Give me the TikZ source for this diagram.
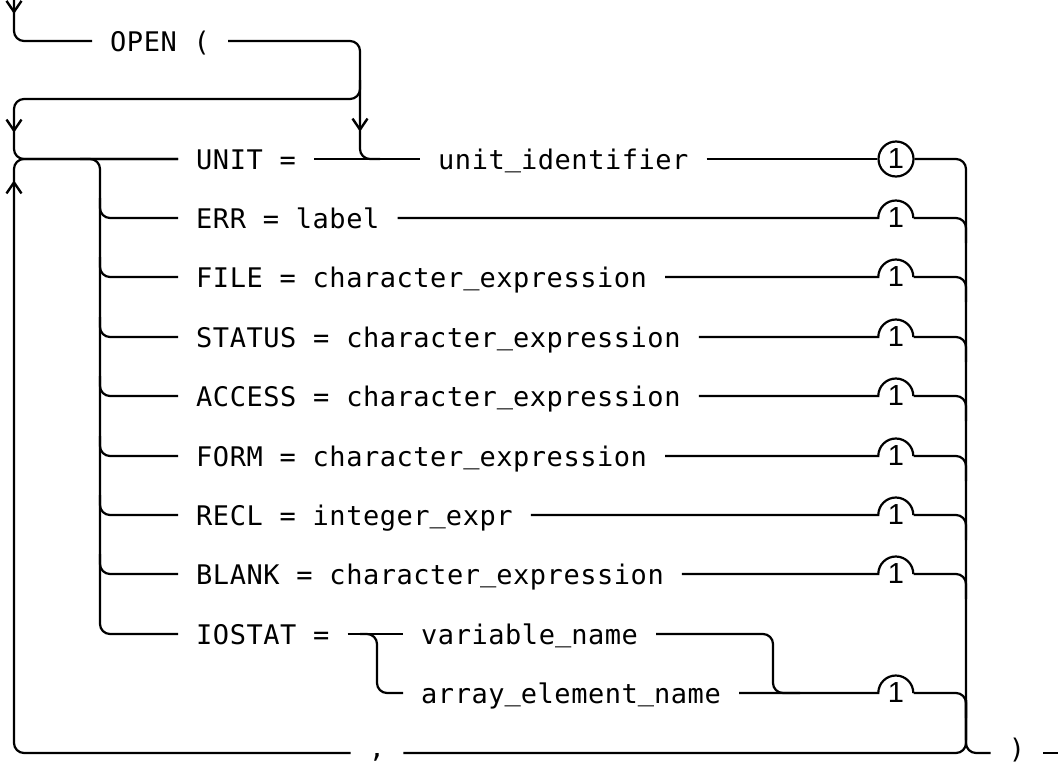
\documentclass[tikz,border=0pt]{standalone}
\usepackage{fontspec}
\newfontfamily\dmono[LetterSpace=2]{DejaVu Sans Mono}
\newfontfamily\dnum{Liberation Sans}
\newcommand\us{\raisebox{0.1em}{\_}}
\usetikzlibrary{arrows.meta,decorations.markings}
\tikzset{
  barb/.tip={Straight Barb[length=11pt,width=15pt]},
  rail/.style={line width=2.2pt, rounded corners=10pt},
  plain/.style={line width=2.2pt},
  lbl/.style={font=\dmono\fontsize{27pt}{27pt}\selectfont, inner xsep=18pt, inner ysep=0pt,
              text height=20pt, text depth=0pt, anchor=west},
  num/.style={circle, minimum size=35pt, inner sep=0pt, font=\dnum\fontsize{29pt}{29pt}\selectfont},
  numc/.style={num, draw, line width=2.2pt},
  amark/.style={postaction={decorate}, decoration={markings, mark=at position #1 with
     {\draw[line width=2.4pt, -{barb}] (-12pt,0pt) -- (0pt,0pt);}}}
}
\begin{document}
\begin{tikzpicture}[x=1pt,y=-1pt]
\useasboundingbox (0,0) rectangle (1058,764);
% texts
\node[lbl] (t0) at (92,41) {OPEN (};
\node[lbl] (t1) at (178,159) {UNIT =};
\node[lbl] (t1b) at (420,159) {unit\us identifier};
\node[lbl] (t2) at (178,218) {ERR = label};
\node[lbl] (t3) at (178,277) {FILE = character\us expression};
\node[lbl] (t4) at (178,337) {STATUS = character\us expression};
\node[lbl] (t5) at (178,396) {ACCESS = character\us expression};
\node[lbl] (t6) at (178,456) {FORM = character\us expression};
\node[lbl] (t7) at (178,515) {RECL = integer\us expr};
\node[lbl] (t8) at (178,574) {BLANK = character\us expression};
\node[lbl] (t9) at (178,634) {IOSTAT =};
\node[lbl] (t9b) at (403,634) {variable\us name};
\node[lbl] (t10) at (403,693) {array\us element\us name};
\node[lbl, anchor=center] (comma) at (377,747) {,};
\node[lbl, anchor=center] (rp) at (1017,748) {)};
\coordinate (start) at (14,0);
\coordinate (stop) at (1058,753);
% circled / arched numbers
\node[numc] (c1) at (896,159) {1};
\foreach \n/\y in {2/218,3/277,4/337,5/396,6/456,7/515,8/574,10/693}{
  \node[num] (c\n) at (896,\y) {1};
}
% entry
\draw[rail, amark=14pt] (start) |- (t0.west);
\draw[rail, amark=-43pt] (t0.east) -- (360,41) -- (360,159) -- (380,159);
\draw[rail, amark=-186pt] (360,80) -- (360,99) -- (14,99) -- (14,159) -- (t1.west);
\draw[rail, amark=-181pt] (comma.west |- stop) -- (14,753) -- (14,159) -- (t1.west);
% main row
\draw[rail] (t1.east) -- (t1b.west);
\draw[rail] (t1b.east) -- (c1.west);
\draw[rail] (c1.east) -- (966,159) -- (966,740);
% left branch bus
\draw[rail] (80,159) -- (100,159) -- (100,634) -- (t9.west);
\foreach \k/\y in {2/218,3/277,4/337,5/396,6/456,7/515,8/574}{
  \draw[rail] (100,\y-20) |- (t\k.west);
  \draw[plain] (t\k.east) -- (c\k.west) arc[start angle=180,end angle=0,radius=17.5pt];
  \draw[rail] (c\k.east) -- (966,\y) -- (966,\y+25);
}
% IOSTAT
\draw[rail] (t9.east) -- (t9b.west);
\draw[rail] (360,634) -- (377,634) -- (377,693) -- (t10.west);
\draw[rail] (t9b.east) -- (773,634) -- (773,693) -- (800,693);
\draw[plain] (t10.east) -- (c10.west) arc[start angle=180,end angle=0,radius=17.5pt];
\draw[rail] (c10.east) -- (966,693) -- (966,718);
% bottom
\draw[rail] (966,700) |- (comma.east |- stop);
\draw[rail] (966,700) |- (rp.west |- stop);
\draw[rail] (rp.east |- stop) -- (stop);
\end{tikzpicture}
\end{document}
